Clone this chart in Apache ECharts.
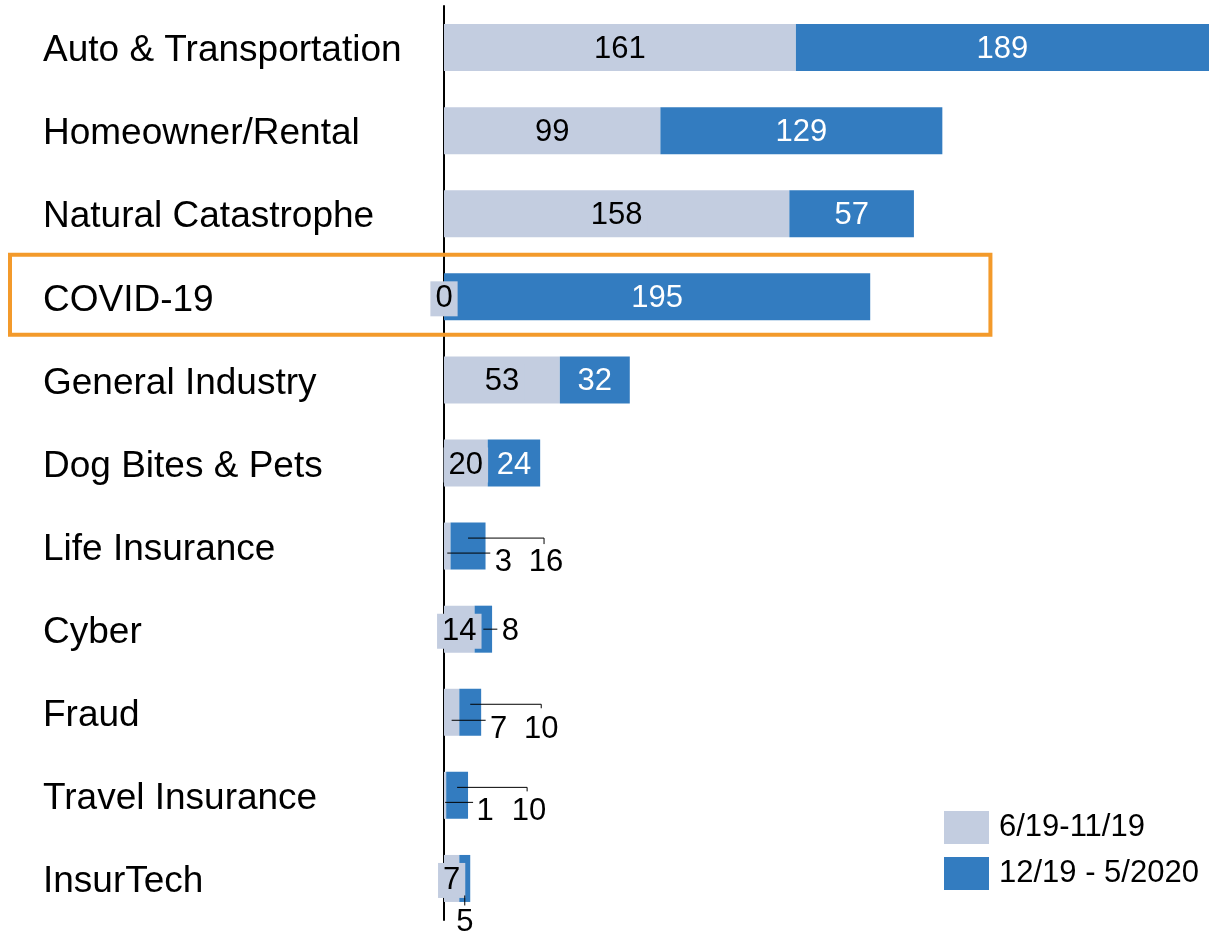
<!DOCTYPE html>
<html>
<head>
<meta charset="utf-8">
<script src="https://cdn.jsdelivr.net/npm/echarts@6/dist/echarts.min.js"></script>
<style>
  html, body { margin: 0; padding: 0; background: #fff; }
  #chart_box { width: 1215px; height: 937px; }
</style>
</head>
<body>
<div id="chart_box"></div>
<script>
// categories, top to bottom
const categories = ['Auto & Transportation', 'Homeowner/Rental', 'Natural Catastrophe', 'COVID-19',
  'General Industry', 'Dog Bites & Pets', 'Life Insurance', 'Cyber', 'Fraud', 'Travel Insurance', 'InsurTech'];
const seriesNames = ['6/19-11/19', '12/19 - 5/2020'];
const period1 = [161, 99, 158, 0, 53, 20, 3, 14, 7, 1, 7];
const period2 = [189, 129, 57, 195, 32, 24, 16, 8, 10, 10, 5];
const highlightCategory = 'COVID-19';

const GRAY = '#C3CDE0';
const BLUE = '#337CC0';
const FONT = '"Liberation Sans", Arial, sans-serif';

// small values get their label moved out of the bar: dataIndex -> [dx, dy]
const calloutGray = { 6: [56, 16], 8: [47, 17], 9: [40, 16] };
const calloutBlue = { 6: [78, 16], 7: [27, 2], 8: [71, 17], 9: [72, 16], 10: [0, 44] };
// leader line vertices, relative to the middle of the bar piece
const leaderGray = { 6: [[0, 7], [43, 7]], 8: [[0, 8], [34, 8]], 9: [[0, 7], [28, 7]] };
const leaderBlue = {
  6: [[0, -8], [76, -8], [76, -2]],
  7: [[0, 0], [14, 0]],
  8: [[0, -8], [71, -8], [71, -4]],
  9: [[0, -8], [70, -8], [70, -4]],
  10: [[0, 17], [0, 27]]
};

function buildData(values, callouts) {
  return values.map(function (v, i) {
    if (!callouts[i]) return v;
    return {
      value: v,
      label: { color: '#000', backgroundColor: 'transparent', padding: 0 }
    };
  });
}

function layoutFor(callouts) {
  return function (p) {
    const c = callouts[p.dataIndex];
    return c ? { dx: c[0], dy: c[1] } : { dy: 2 };
  };
}

// leader lines anchored on the bar pieces through the axis scales
const leaderItems = [];
Object.keys(leaderGray).forEach(function (k) {
  const i = +k;
  leaderItems.push({ value: [period1[i] / 2, i], pts: leaderGray[k] });
});
Object.keys(leaderBlue).forEach(function (k) {
  const i = +k;
  leaderItems.push({ value: [period1[i] + period2[i] / 2, i], pts: leaderBlue[k] });
});

const myEcharts = echarts.init(document.getElementById('chart_box'));
const option = {
  animation: false,
  textStyle: { fontFamily: FONT },
  grid: { left: 444, right: 6, top: 6, bottom: 17, containLabel: false },
  legend: {
    orient: 'vertical',
    left: 944,
    top: 811,
    padding: 0,
    itemWidth: 45,
    itemHeight: 33,
    itemGap: 13,
    icon: 'rect',
    textStyle: { fontSize: 31, color: '#000', fontFamily: FONT, padding: [6, 0, 0, 5] },
    data: seriesNames
  },
  xAxis: {
    type: 'value',
    min: 0,
    max: 350,
    show: false,
    splitLine: { show: false }
  },
  yAxis: {
    type: 'category',
    inverse: true,
    data: categories,
    axisTick: { show: false },
    axisLine: { show: true, lineStyle: { color: '#000', width: 2 } },
    axisLabel: {
      interval: 0,
      align: 'left',
      verticalAlign: 'top',
      lineHeight: 7,
      margin: 401,
      fontSize: 37,
      color: '#000',
      fontFamily: FONT
    }
  },
  series: [
    {
      name: seriesNames[0],
      type: 'bar',
      stack: 'total',
      barWidth: 47,
      itemStyle: { color: GRAY },
      label: {
        show: true,
        position: 'inside',
        fontSize: 31,
        color: '#000',
        fontFamily: FONT,
        backgroundColor: GRAY,
        padding: [2, 5]
      },
      labelLayout: layoutFor(calloutGray),
      data: buildData(period1, calloutGray)
    },
    {
      name: seriesNames[1],
      type: 'bar',
      stack: 'total',
      barWidth: 47,
      itemStyle: { color: BLUE },
      label: {
        show: true,
        position: 'inside',
        fontSize: 31,
        color: '#fff',
        fontFamily: FONT
      },
      labelLayout: layoutFor(calloutBlue),
      data: buildData(period2, calloutBlue)
    },
    {
      name: 'leaders',
      type: 'custom',
      silent: true,
      z: 5,
      encode: { x: 0, y: 1 },
      data: leaderItems.map(function (d) { return d.value; }),
      renderItem: function (params, api) {
        const c = api.coord([api.value(0), api.value(1)]);
        const pts = leaderItems[params.dataIndex].pts;
        return {
          type: 'polyline',
          shape: { points: pts.map(function (p) { return [c[0] + p[0], c[1] + p[1]]; }) },
          style: { stroke: '#000', lineWidth: 1, fill: null }
        };
      }
    }
  ]
};
myEcharts.setOption(option);

// orange frame around the highlighted category row
const cy = myEcharts.convertToPixel({ yAxisIndex: 0 }, highlightCategory);
const xRight = myEcharts.convertToPixel({ xAxisIndex: 0 }, 250);
myEcharts.setOption({
  graphic: [{
    type: 'rect',
    shape: { x: 10, y: cy - 42, width: xRight - 10, height: 80 },
    style: { fill: 'none', stroke: '#F39A2B', lineWidth: 4 },
    z: 10
  }]
});
</script>
</body>
</html>
